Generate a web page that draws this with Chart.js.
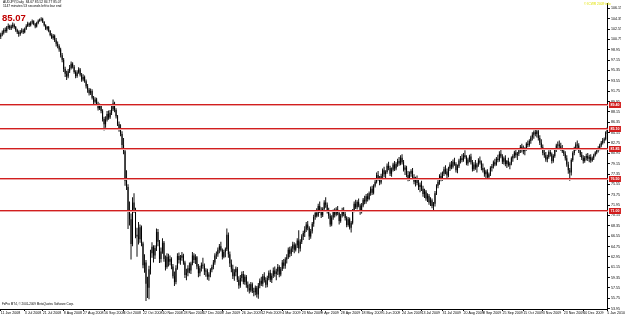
<!DOCTYPE html>
<html><head><meta charset="utf-8">
<script src="https://cdn.jsdelivr.net/npm/chart.js@4.4.1/dist/chart.umd.min.js"></script>
<style>
html,body{margin:0;padding:0;background:#fff;}
#wrap{position:relative;width:625px;height:315px;overflow:hidden;font-family:"Liberation Sans",Arial,sans-serif;}
#c{position:absolute;left:0;top:0;}
.t{position:absolute;white-space:nowrap;line-height:1;}
</style></head><body>
<div id="wrap">
<canvas id="c" width="625" height="315"></canvas>
<div class="t" style="left:3px;top:1px;font-size:3.3px;color:#000">AUDJPY,Daily&nbsp; 84.67 85.52 84.77 85.07</div>
<div class="t" style="left:3px;top:5px;font-size:3.3px;color:#000">1147 minutes 53 seconds left to bar end</div>
<div class="t" style="left:2px;top:13px;font-size:9.5px;font-weight:bold;color:#c00000">85.07</div>
<div class="t" style="left:2px;top:303px;font-size:3px;color:#000">FxPro MT4, © 2001-2009 MetaQuotes Software Corp.</div>
<div class="t" style="left:584px;top:3px;font-size:3.3px;color:#e2e200">© ICWR 2009 info</div>
<div id="err" class="t" style="left:250px;top:150px;font-size:12px;color:#f00"></div>
</div>
<script>
// ---- data ----
const firstDay = [2008, 5, 11];            // 11 Jun 2008
const lastDay = [2010, 0, 5];              // 5 Jan 2010
const closedDays = ['2008-12-25', '2009-01-01', '2009-12-25', '2010-01-01'];
const dateTickLabels = ['11 Jun 2008','3 Jul 2008','21 Jul 2008','8 Aug 2008','27 Aug 2008','16 Sep 2008','3 Oct 2008','22 Oct 2008','10 Nov 2008','28 Nov 2008','17 Dec 2008','7 Jan 2009','26 Jan 2009','12 Feb 2009','4 Mar 2009','23 Mar 2009','9 Apr 2009','28 Apr 2009','18 May 2009','5 Jun 2009','24 Jun 2009','13 Jul 2009','31 Jul 2009','20 Aug 2009','8 Sep 2009','25 Sep 2009','15 Oct 2009','3 Nov 2009','23 Nov 2009','10 Dec 2009','5 Jan 2010'];
const priceTicks = [106.15,104.35,102.55,100.75,98.95,97.15,95.35,93.55,91.75,89.95,88.15,86.35,84.55,82.75,80.95,79.15,77.35,75.55,73.75,71.95,70.15,68.35,66.55,64.75,62.95,61.15,59.35,57.55,55.75,53.95];
const levelLines = [89.40, 85.10, 81.85, 76.50, 71.00];

const opens = [
101.2,101.6,101.9,102.4,102.2,102.8,103.1,102.7,103.0,103.3,102.9,102.4,102.0,101.7,
102.1,102.3,102.0,102.6,103.1,103.5,103.2,103.7,103.9,103.4,103.0,103.6,104.0,104.2,104.3,103.8,103.2,102.6,102.9,102.2,101.5,101.0,101.4,
100.6,100.0,99.6,99.0,98.0,97.2,95.6,94.8,94.3,95.2,95.8,96.5,96.0,95.1,94.4,95.0,95.5,94.6,93.8,94.2,93.5,
92.6,92.0,91.4,91.8,90.6,89.9,90.3,89.5,88.8,89.2,88.3,86.9,86.0,86.8,87.8,87.2,88.0,88.6,89.6,88.5,87.4,86.0,
85.2,84.3,82.4,81.3,76.2,75.1,71.0,69.5,65.2,72.4,71.2,66.8,66.5,66.0,68.1,65.3,61.5,62.0,58.3,57.6,60.8,63.6,64.7,
63.2,64.5,67.3,65.6,62.6,63.9,65.4,62.6,61.2,63.0,62.1,62.6,61.3,59.6,58.6,61.0,63.1,62.4,62.8,63.2,
62.0,59.8,60.2,61.0,60.6,61.8,63.2,62.4,62.9,61.3,60.1,61.0,61.6,61.4,60.4,60.6,59.5,59.9,60.7,61.2,62.0,63.2,
63.4,64.2,64.8,64.1,63.0,63.8,64.3,66.8,63.4,61.8,60.9,59.6,60.3,60.9,59.0,58.0,59.3,60.0,58.6,59.5,58.1,
57.5,57.1,58.2,57.0,56.8,57.6,56.4,58.0,58.8,58.3,59.6,58.9,58.1,59.3,60.2,59.0,59.7,60.6,60.0,60.4,
61.2,59.9,60.8,62.0,61.4,62.5,62.9,64.2,63.5,64.4,65.1,64.2,65.0,65.8,64.4,65.6,66.5,67.1,67.7,68.6,68.0,66.5,
67.4,68.7,69.9,70.6,70.1,71.8,71.1,70.2,71.3,72.4,72.0,70.9,70.1,68.6,69.8,70.8,70.3,71.2,70.6,69.2,70.1,71.0,
70.4,69.7,68.5,69.5,68.0,68.9,71.0,72.2,71.6,72.5,71.9,70.8,71.9,72.9,72.6,73.5,73.0,74.0,74.8,74.1,75.3,
76.0,77.2,76.6,75.9,77.0,78.0,77.3,77.7,78.8,78.4,77.4,78.1,79.0,78.3,79.1,79.6,79.2,80.2,79.4,78.1,78.5,77.2,
76.6,77.4,77.9,76.8,76.0,76.5,75.8,75.1,75.5,74.8,73.9,74.3,73.1,73.6,72.4,72.8,71.8,72.2,74.0,75.3,76.0,77.0,76.5,
77.4,78.2,77.8,77.1,78.3,79.0,78.6,79.5,79.1,78.0,78.7,79.7,80.1,79.8,80.6,80.3,79.2,79.9,80.4,79.4,78.2,
79.0,78.5,79.0,79.7,79.3,78.4,78.0,77.3,77.8,76.8,77.3,78.4,78.7,79.4,79.0,80.0,79.8,80.9,80.4,79.5,80.1,79.1,
79.6,78.9,79.2,80.1,80.5,81.1,80.6,80.9,81.5,82.1,81.6,81.3,81.8,82.6,82.4,83.1,83.7,84.2,84.6,84.3,84.8,83.6,
82.8,82.0,81.0,80.6,79.9,80.3,81.2,80.8,79.6,80.5,81.6,82.3,82.5,82.2,81.8,81.3,80.9,80.1,79.0,78.0,77.6,
79.8,81.0,81.8,82.5,82.3,81.4,80.7,80.2,79.6,80.2,80.5,80.0,80.3,79.7,80.1,80.6,81.1,81.5,81.9,82.3,82.8,83.2,
83.4,84.6];

const highs = [
101.9,102.3,102.7,102.8,103.1,103.5,103.3,103.3,103.7,103.5,103.1,102.6,102.3,102.4,
102.7,102.6,102.8,103.4,103.8,103.7,103.9,104.2,104.1,103.6,103.8,104.2,104.4,104.6,104.5,103.9,103.4,103.1,103.1,102.4,101.8,101.7,101.6,
101.0,100.4,99.9,99.3,98.4,97.5,96.0,95.3,95.6,96.3,96.9,96.8,96.3,95.4,95.4,95.9,95.8,94.9,94.7,94.5,93.8,
93.0,92.3,92.2,92.1,90.9,90.7,90.6,89.9,89.6,89.5,88.6,87.3,87.4,88.3,88.4,88.5,89.2,90.3,89.9,88.8,87.6,86.5,
86.0,84.8,83.6,81.6,78.0,75.6,72.6,70.5,73.3,74.0,71.5,68.0,69.0,68.6,68.4,65.6,63.4,62.4,59.5,61.4,64.2,65.5,65.0,
65.0,67.9,67.8,65.9,64.6,66.2,65.7,63.2,63.6,63.5,63.2,62.9,61.7,60.4,61.5,63.6,63.7,63.3,63.8,63.5,
62.3,60.9,61.5,62.0,62.1,63.8,63.6,63.4,63.1,61.7,61.4,62.0,62.8,61.8,61.0,60.9,60.3,61.0,61.6,62.4,63.6,63.9,
64.6,65.2,65.6,64.4,64.2,64.6,67.9,67.2,63.9,62.5,61.6,60.8,61.3,61.2,59.6,59.8,60.4,60.5,59.9,59.8,58.7,
58.3,58.6,58.5,57.6,58.0,57.9,58.4,59.2,59.5,60.0,60.3,59.4,59.7,60.6,60.7,60.1,61.1,61.3,60.9,61.7,
61.5,61.2,62.4,62.6,62.9,63.4,64.6,64.7,64.8,65.6,65.5,65.3,66.2,67.6,66.0,66.9,67.5,68.3,69.0,69.2,68.3,67.8,
69.0,70.3,71.1,71.4,72.2,72.6,71.6,71.6,72.8,73.3,72.4,71.5,70.5,70.2,71.2,71.4,71.6,71.8,70.9,70.4,71.5,71.6,
71.0,70.0,69.9,69.8,69.2,71.3,72.6,72.9,72.8,73.1,72.2,72.3,73.2,73.6,73.9,74.0,74.3,75.2,75.3,75.6,76.4,
77.6,77.9,77.0,77.4,78.3,78.6,78.0,79.2,79.5,78.8,78.5,79.3,79.6,79.4,80.0,80.3,80.6,80.8,79.8,78.9,78.8,77.9,
77.8,78.2,78.4,77.3,76.9,77.1,76.6,75.9,76.2,75.3,74.8,74.6,74.0,73.9,73.3,73.1,72.5,74.4,75.6,76.3,77.3,77.6,77.8,
78.6,78.9,78.3,78.6,79.4,79.6,79.9,80.2,79.4,79.0,80.0,80.5,80.8,81.0,81.5,80.6,80.2,80.7,80.9,79.8,79.4,
79.8,79.3,80.1,80.4,79.7,79.2,78.5,78.1,78.2,77.6,78.7,79.1,79.7,80.0,80.3,80.7,81.3,81.6,80.8,80.4,80.6,79.8,
80.2,79.5,80.4,80.8,81.4,81.6,81.2,81.8,82.4,82.6,82.3,82.0,82.9,83.2,83.4,84.0,84.6,84.9,85.2,85.3,85.0,84.1,
83.4,82.5,81.8,81.2,80.7,81.5,81.9,81.1,80.8,81.9,82.6,83.0,83.2,82.8,82.4,81.7,81.3,80.6,79.5,78.4,80.1,
81.3,82.1,82.9,83.2,82.7,81.8,81.2,80.6,80.5,80.9,81.0,80.7,80.8,80.4,80.9,81.3,81.7,82.2,82.6,83.1,83.6,83.7,
84.8,85.5];

const lows = [
100.8,101.3,101.6,101.9,101.9,102.5,102.4,102.4,102.7,102.6,102.1,101.7,101.2,101.4,
101.8,101.7,101.8,102.4,102.9,102.9,103.0,103.4,103.2,102.7,102.8,103.4,103.8,103.9,103.6,103.0,102.4,102.3,102.0,101.3,100.8,100.7,100.3,
99.5,99.2,98.6,97.6,96.8,95.1,94.2,93.7,94.0,94.9,95.5,95.7,94.8,94.0,94.1,94.8,94.3,93.4,93.5,93.2,92.2,
91.5,91.0,91.1,90.3,89.5,89.6,89.2,88.4,88.5,87.9,86.5,84.9,85.4,86.5,86.8,86.9,87.6,88.3,88.1,87.0,85.7,84.7,
83.9,81.9,80.8,75.3,74.6,67.8,68.4,62.5,64.8,70.6,66.2,63.0,65.1,65.4,64.8,61.0,60.2,55.3,55.8,55.6,59.9,62.8,62.0,
62.6,64.0,64.8,61.9,62.0,63.5,62.1,60.6,60.9,61.3,61.5,60.8,59.2,57.9,58.2,60.7,61.8,61.6,62.3,61.6,
59.3,58.9,59.6,60.1,60.0,61.5,61.9,61.7,60.8,59.4,59.6,60.4,60.9,59.8,59.5,59.0,58.8,59.4,60.3,60.8,61.6,62.6,
63.0,63.6,63.9,62.5,62.7,62.9,64.0,62.8,61.2,60.3,59.1,58.8,59.6,58.6,57.4,57.6,58.7,58.2,58.1,57.6,56.9,
56.6,56.8,56.7,56.1,56.3,55.9,55.7,57.5,57.9,57.8,58.5,57.6,57.7,58.9,58.6,58.4,59.3,59.5,58.9,59.8,
59.4,59.6,60.5,60.9,60.9,61.8,62.6,62.9,63.1,63.8,63.6,63.9,64.5,63.6,63.9,65.2,65.9,66.4,67.3,67.6,65.9,66.1,
67.0,68.2,69.4,69.8,69.9,70.6,69.7,69.9,71.0,71.5,70.5,69.6,68.2,68.3,69.4,69.8,70.0,70.2,68.6,68.9,69.8,70.0,
69.3,68.1,68.2,67.7,67.2,68.6,70.7,71.3,71.2,71.6,70.3,70.5,71.6,72.1,72.2,72.6,72.8,73.6,73.7,73.8,75.0,
75.7,76.2,75.4,75.6,76.6,76.8,76.4,77.4,78.0,77.0,76.9,77.8,77.9,78.0,78.6,78.8,78.9,79.0,77.8,77.2,76.8,76.1,
76.2,76.9,76.5,75.6,75.2,75.4,74.6,74.2,74.4,73.4,73.2,72.7,72.5,72.0,71.8,71.4,70.9,71.7,73.7,74.9,75.5,76.1,76.2,
77.0,77.3,76.6,76.8,77.9,78.2,78.3,78.8,77.6,77.5,78.4,79.2,79.4,79.5,80.0,78.9,78.8,79.4,79.0,77.8,77.9,
78.1,77.6,78.6,79.0,78.0,77.6,76.9,76.6,76.3,76.4,77.0,77.8,78.3,78.7,78.8,79.4,79.5,80.1,79.1,79.0,78.7,78.4,
78.6,78.2,78.9,79.5,80.1,80.2,79.8,80.5,81.0,81.1,80.8,80.6,81.4,82.0,82.1,82.6,83.2,83.5,83.9,83.7,83.2,82.4,
81.6,80.6,80.2,79.5,79.4,80.0,80.4,79.2,79.3,80.2,81.2,81.8,81.9,81.4,81.0,80.5,79.7,78.6,77.4,76.2,77.1,
79.5,80.6,81.4,81.9,81.0,80.3,79.8,79.2,79.3,79.7,79.6,79.4,79.3,79.5,79.8,80.4,80.8,81.1,81.5,82.0,82.5,82.7,
83.2,84.3];

const closes = [
101.6,101.9,102.4,102.2,102.8,103.1,102.7,103.0,103.3,102.9,102.4,102.0,101.7,102.1,
102.3,102.0,102.6,103.1,103.5,103.2,103.7,103.9,103.4,103.0,103.6,104.0,104.2,104.3,103.8,103.2,102.6,102.9,102.2,101.5,101.0,101.4,100.6,
100.0,99.6,99.0,98.0,97.2,95.6,94.8,94.3,95.2,95.8,96.5,96.0,95.1,94.4,95.0,95.5,94.6,93.8,94.2,93.5,92.6,
92.0,91.4,91.8,90.6,89.9,90.3,89.5,88.8,89.2,88.3,86.9,86.0,86.8,87.8,87.2,88.0,88.6,89.6,88.5,87.4,86.0,85.2,
84.3,82.4,81.3,76.2,75.1,71.0,69.5,65.2,72.4,71.2,66.8,66.5,66.0,68.1,65.3,61.5,62.0,58.3,57.6,60.8,63.6,64.7,63.2,
64.5,67.3,65.6,62.6,63.9,65.4,62.6,61.2,63.0,62.1,62.6,61.3,59.6,58.6,61.0,63.1,62.4,62.8,63.2,62.0,
59.8,60.2,61.0,60.6,61.8,63.2,62.4,62.9,61.3,60.1,61.0,61.6,61.4,60.4,60.6,59.5,59.9,60.7,61.2,62.0,63.2,63.4,
64.2,64.8,64.1,63.0,63.8,64.3,66.8,63.4,61.8,60.9,59.6,60.3,60.9,59.0,58.0,59.3,60.0,58.6,59.5,58.1,57.5,
57.1,58.2,57.0,56.8,57.6,56.4,58.0,58.8,58.3,59.6,58.9,58.1,59.3,60.2,59.0,59.7,60.6,60.0,60.4,61.2,
59.9,60.8,62.0,61.4,62.5,62.9,64.2,63.5,64.4,65.1,64.2,65.0,65.8,64.4,65.6,66.5,67.1,67.7,68.6,68.0,66.5,67.4,
68.7,69.9,70.6,70.1,71.8,71.1,70.2,71.3,72.4,72.0,70.9,70.1,68.6,69.8,70.8,70.3,71.2,70.6,69.2,70.1,71.0,70.4,
69.7,68.5,69.5,68.0,68.9,71.0,72.2,71.6,72.5,71.9,70.8,71.9,72.9,72.6,73.5,73.0,74.0,74.8,74.1,75.3,76.0,
77.2,76.6,75.9,77.0,78.0,77.3,77.7,78.8,78.4,77.4,78.1,79.0,78.3,79.1,79.6,79.2,80.2,79.4,78.1,78.5,77.2,76.6,
77.4,77.9,76.8,76.0,76.5,75.8,75.1,75.5,74.8,73.9,74.3,73.1,73.6,72.4,72.8,71.8,72.2,74.0,75.3,76.0,77.0,76.5,77.4,
78.2,77.8,77.1,78.3,79.0,78.6,79.5,79.1,78.0,78.7,79.7,80.1,79.8,80.6,80.3,79.2,79.9,80.4,79.4,78.2,79.0,
78.5,79.0,79.7,79.3,78.4,78.0,77.3,77.8,76.8,77.3,78.4,78.7,79.4,79.0,80.0,79.8,80.9,80.4,79.5,80.1,79.1,79.6,
78.9,79.2,80.1,80.5,81.1,80.6,80.9,81.5,82.1,81.6,81.3,81.8,82.6,82.4,83.1,83.7,84.2,84.6,84.3,84.8,83.6,82.8,
82.0,81.0,80.6,79.9,80.3,81.2,80.8,79.6,80.5,81.6,82.3,82.5,82.2,81.8,81.3,80.9,80.1,79.0,78.0,77.6,79.8,
81.0,81.8,82.5,82.3,81.4,80.7,80.2,79.6,80.2,80.5,80.0,80.3,79.7,80.1,80.6,81.1,81.5,81.9,82.3,82.8,83.2,83.4,
84.6,85.07];

// ---- trading days (Mon-Fri, no Christmas / New Year) ----
const MON = ['Jan','Feb','Mar','Apr','May','Jun','Jul','Aug','Sep','Oct','Nov','Dec'];
const days = [];
{
  let t = Date.UTC(firstDay[0], firstDay[1], firstDay[2]);
  const end = Date.UTC(lastDay[0], lastDay[1], lastDay[2]);
  while (t <= end) {
    const d = new Date(t), wd = d.getUTCDay(), iso = d.toISOString().slice(0, 10);
    if (wd > 0 && wd < 6 && !closedDays.includes(iso)) days.push(d.getUTCDate() + ' ' + MON[d.getUTCMonth()] + ' ' + d.getUTCFullYear());
    t += 86400000;
  }
}
const lens = [days.length, opens.length, highs.length, lows.length, closes.length];
if (new Set(lens).size !== 1) document.getElementById('err').textContent = 'len ' + lens.join(',');

const tickSet = new Set(dateTickLabels);
const INK = '#000';
const RED = '#d21e1e';

const levelsPlugin = {
  id: 'levels',
  afterDatasetsDraw(chart) {
    const { ctx, chartArea: a, scales: { y } } = chart;
    ctx.save();
    levelLines.forEach(v => {
      const py = Math.floor(y.getPixelForValue(v) / 2) * 2;
      ctx.fillStyle = RED;
      ctx.fillRect(a.left, py, a.right - a.left, 1);
      ctx.fillStyle = '#eca4a4';
      ctx.fillRect(a.left, py + 1, a.right - a.left, 1);
      ctx.fillStyle = RED;
      ctx.fillRect(a.right + 1, py - 2, 12, 6);
      ctx.fillStyle = '#fff'; ctx.font = 'bold 3.6px "Liberation Sans"';
      ctx.textBaseline = 'middle'; ctx.textAlign = 'left';
      ctx.fillText(v.toFixed(2), a.right + 2.5, py + 1);
    });
    ctx.restore();
  }
};

Chart.defaults.font.family = '"Liberation Sans", Arial, sans-serif';

new Chart(document.getElementById('c').getContext('2d'), {
  type: 'bar',
  data: {
    labels: days,
    datasets: [
      { data: lows.map((l, i) => [l, highs[i]]), backgroundColor: '#111', barThickness: 1, grouped: false, inflateAmount: 0, order: 2 },
      { data: opens.map((o, i) => [o, closes[i]]), backgroundColor: INK, barThickness: 1, grouped: false, inflateAmount: 0, order: 1 }
    ]
  },
  options: {
    responsive: false, animation: false, devicePixelRatio: 1,
    layout: { padding: 0 },
    plugins: { legend: { display: false }, tooltip: { enabled: false } },
    scales: {
      x: {
        type: 'category', offset: true,
        afterFit(s) { s.height = 6; },
        border: { display: true, color: INK, width: 1 },
        grid: { display: true, offset: false, drawOnChartArea: false, drawTicks: true, tickLength: 2,
                color: c => (c.tick && c.tick.label) ? INK : 'rgba(0,0,0,0)' },
        ticks: {
          autoSkip: false, maxRotation: 0, minRotation: 0, align: 'start', padding: 0,
          font: { size: 3.6 }, color: INK,
          callback(v) { const l = this.getLabelForValue(v); return tickSet.has(l) ? l : ''; }
        }
      },
      y: {
        position: 'right', min: 53.9, max: 107.05,
        afterFit(s) { s.width = 13; },
        afterBuildTicks(s) { s.ticks = priceTicks.map(v => ({ value: v })); },
        border: { display: true, color: INK, width: 1 },
        grid: { drawOnChartArea: false, drawTicks: true, tickLength: 2, color: INK },
        ticks: { padding: 1, font: { size: 3.6 }, color: INK, callback: v => Number(v).toFixed(2) }
      }
    }
  },
  plugins: [levelsPlugin]
});
</script>
</body></html>
